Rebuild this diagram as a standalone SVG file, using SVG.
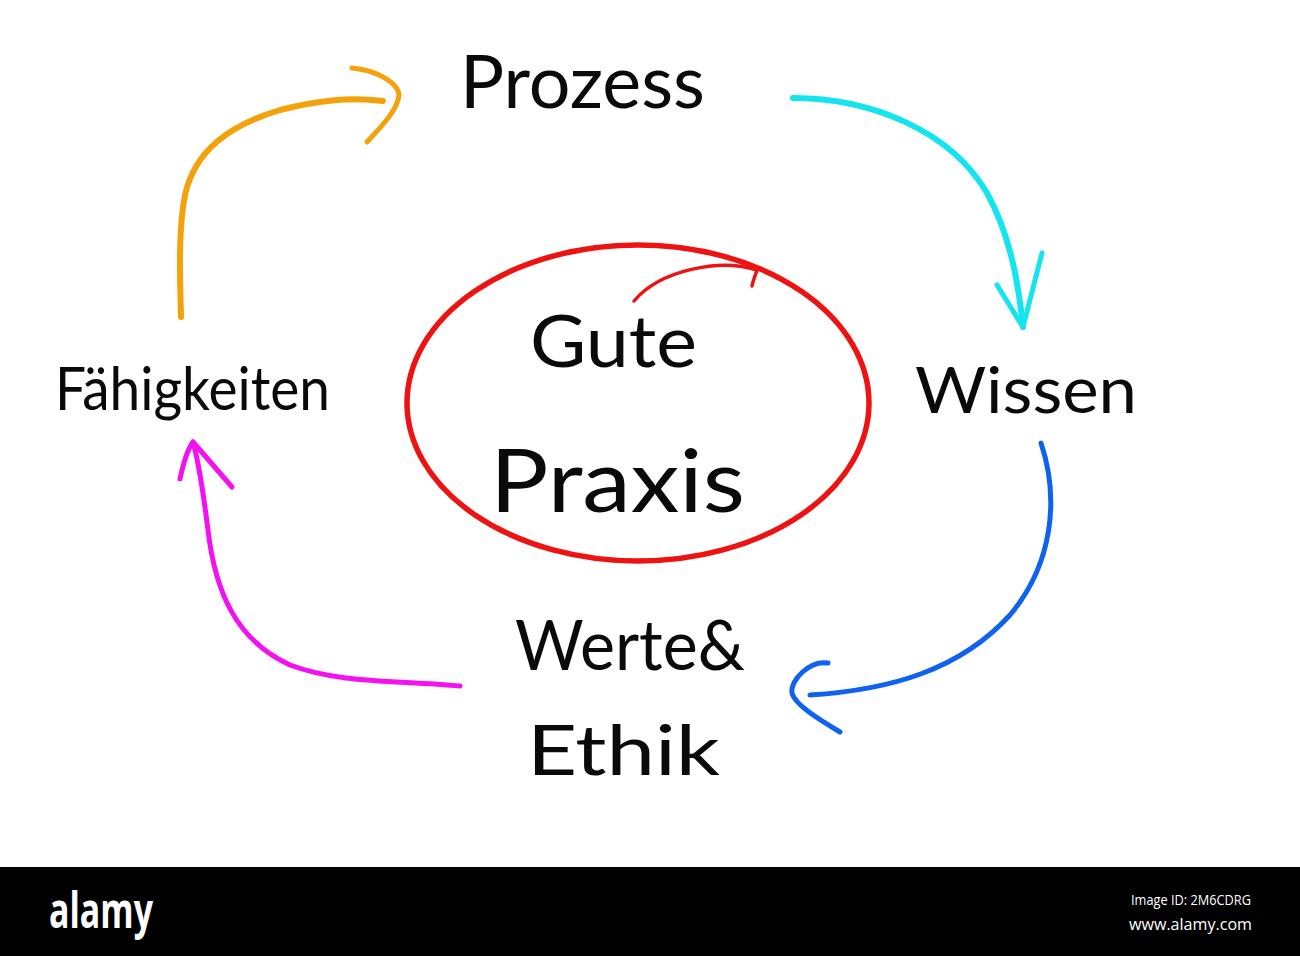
<svg xmlns="http://www.w3.org/2000/svg" width="1300" height="956" viewBox="0 0 1300 956">
<style>
.hw{font-family:"Lato","Open Sans","DejaVu Sans",sans-serif;font-weight:400;fill:#0a0a0a}
.c{fill:none;stroke-linecap:round;stroke-linejoin:round}
.wm{font-family:"Open Sans","DejaVu Sans",sans-serif;fill:#fff}
</style>
<rect width="1300" height="956" fill="#fff"/>
<g id="connectors">
<path class="c" stroke="#14e4ef" stroke-width="6" d="M793 98 C870 98 950 130 987 193 C1010 235 1018 280 1023 327"/>
<path class="c" stroke="#14e4ef" stroke-width="5" d="M997 285 L1023 327 L1042 253"/>
<path class="c" stroke="#0f62ee" stroke-width="5" d="M1041 443 C1060 500 1052 565 1010 615 C960 670 890 690 810 695"/>
<path class="c" stroke="#0f62ee" stroke-width="5" d="M828 663 C810 660 790 680 792 693 C795 705 820 720 840 732"/>
<path class="c" stroke="#f510f0" stroke-width="5" d="M460 686 C400 680 340 684 290 665 C235 640 215 590 208 530 C203 490 198 460 193 442"/>
<path class="c" stroke="#f510f0" stroke-width="5" d="M180 479 C183 465 187 450 193 442 L232 487"/>
<path class="c" stroke="#f4a20c" stroke-width="6" d="M181 317 C180 280 178 230 185 195 C195 150 230 125 280 110 C320 100 350 97 383 101"/>
<path class="c" stroke="#f4a20c" stroke-width="5" d="M352 68 C375 70 398 82 399 95 C398 110 380 128 367 142"/>
<path class="c" stroke="#ee1313" stroke-width="3.5" d="M634 301 C660 270 720 258 757 270 M757 270 C755 276 753 281 752 286"/>
</g>
<g id="node-center">
<ellipse cx="638" cy="403" rx="231" ry="158" fill="none" stroke="#ee1313" stroke-width="5.5"/>
<text class="hw" x="530" y="367" font-size="72" textLength="167" lengthAdjust="spacingAndGlyphs">Gute</text>
<text class="hw" x="490" y="512" font-size="88" textLength="255" lengthAdjust="spacingAndGlyphs">Praxis</text>
</g>
<g id="node-prozess">
<text class="hw" x="460" y="108" font-size="74" textLength="245" lengthAdjust="spacingAndGlyphs">Prozess</text>
</g>
<g id="node-wissen">
<text class="hw" x="915" y="413" font-size="64" textLength="222" lengthAdjust="spacingAndGlyphs">Wissen</text>
</g>
<g id="node-werte">
<text class="hw" x="515" y="670" font-size="70" textLength="230" lengthAdjust="spacingAndGlyphs">Werte&amp;</text>
<text class="hw" x="527" y="775" font-size="70" textLength="193" lengthAdjust="spacingAndGlyphs">Ethik</text>
</g>
<g id="node-faehigkeiten">
<text class="hw" x="55" y="410" font-size="60" textLength="275" lengthAdjust="spacingAndGlyphs">Fähigkeiten</text>
</g>
<g id="watermark">
<rect x="0" y="867" width="1300" height="89" fill="#000"/>
<text class="wm" x="49" y="928" font-size="50" font-weight="700" textLength="104" lengthAdjust="spacingAndGlyphs">alamy</text>
<text class="wm" x="1131" y="905" font-size="14" textLength="120" lengthAdjust="spacingAndGlyphs">Image ID: 2M6CDRG</text>
<text class="wm" x="1129" y="930" font-size="17" textLength="123" lengthAdjust="spacingAndGlyphs">www.alamy.com</text>
</g>
</svg>
